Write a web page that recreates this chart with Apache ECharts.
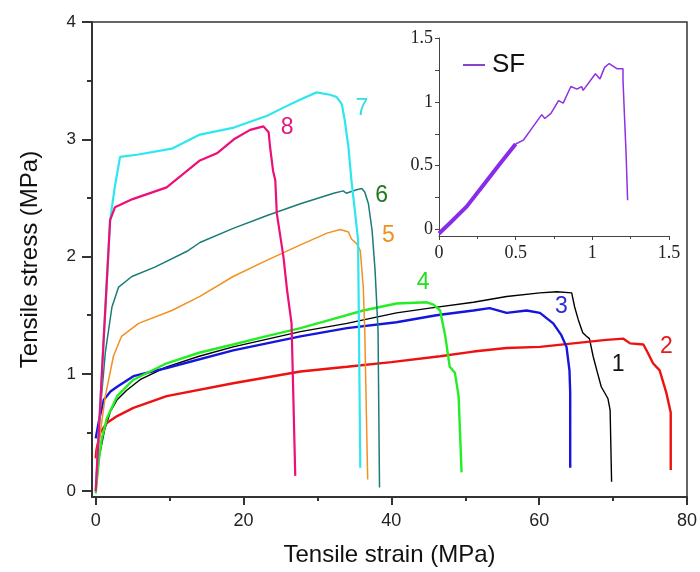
<!DOCTYPE html>
<html>
<head>
<meta charset="utf-8">
<script src="https://cdn.jsdelivr.net/npm/echarts@6/dist/echarts.min.js"></script>
<style>
  html, body { margin: 0; padding: 0; background: #fff; }
  #chart { width: 700px; height: 572px; }
</style>
</head>
<body>
<div id="chart"></div>
<script>
// curves: strain (x) and stress (y)
var s1Strain = [0, 0.5, 1.2, 2.0, 2.9, 4.2, 6.0, 9.6, 14, 18.6, 27.7, 34.0, 40.7, 45.2, 51.1, 55.6, 60.1, 62.4, 64.4, 64.8, 65.3, 65.9, 66.4, 66.8, 67.3, 67.8, 68.4, 69.3, 69.6, 69.8];
var s1Stress = [0, 0.3, 0.52, 0.68, 0.78, 0.86, 0.95, 1.06, 1.15, 1.23, 1.36, 1.43, 1.52, 1.56, 1.61, 1.66, 1.69, 1.70, 1.69, 1.57, 1.46, 1.35, 1.32, 1.30, 1.15, 1.03, 0.89, 0.79, 0.69, 0.08];

var s2Strain = [0, 0.1, 0.6, 1.5, 2.9, 5.1, 9.6, 18.6, 27.7, 34.0, 40, 46.6, 51.1, 55.6, 60.1, 64.6, 69.1, 71.4, 72.3, 74.1, 74.7, 75.4, 76.3, 77.2, 77.8, 77.8];
var s2Stress = [0.28, 0.35, 0.5, 0.58, 0.64, 0.71, 0.81, 0.92, 1.02, 1.06, 1.10, 1.15, 1.19, 1.22, 1.23, 1.26, 1.29, 1.30, 1.26, 1.25, 1.18, 1.09, 1.03, 0.84, 0.67, 0.18];

var s3Strain = [0, 0.5, 1.1, 2.0, 2.9, 5.1, 9.6, 18.6, 27.7, 34.0, 40.7, 46.1, 51.1, 53.3, 55.6, 58.3, 60.1, 61.9, 63.0, 63.7, 64.1, 64.2, 64.2];
var s3Stress = [0.45, 0.62, 0.78, 0.85, 0.89, 0.98, 1.05, 1.20, 1.32, 1.39, 1.44, 1.50, 1.54, 1.56, 1.52, 1.54, 1.52, 1.43, 1.33, 1.23, 1.03, 0.84, 0.20];

var s4Strain = [0, 0.4, 0.8, 1.5, 2.9, 5.1, 9.6, 14, 18.6, 23, 27.7, 31.7, 36.2, 40.7, 44.8, 45.7, 46.6, 47.3, 47.9, 48.6, 49.1, 49.5];
var s4Stress = [-0.02, 0.25, 0.44, 0.62, 0.81, 0.95, 1.09, 1.18, 1.25, 1.32, 1.39, 1.46, 1.54, 1.60, 1.61, 1.59, 1.54, 1.32, 1.06, 1.01, 0.81, 0.16];

var s5Strain = [0, 0.36, 1.3, 2.4, 3.5, 5.8, 10.3, 14.1, 18.6, 23.2, 27.7, 31.3, 33.1, 34.2, 34.6, 35.3, 35.8, 36.2, 36.4, 36.8];
var s5Stress = [0, 0.38, 0.81, 1.15, 1.32, 1.43, 1.54, 1.66, 1.83, 1.97, 2.10, 2.20, 2.23, 2.21, 2.15, 2.11, 2.05, 1.74, 1.37, 0.10];

var s6Strain = [0, 0.5, 1.3, 2.2, 3.1, 4.9, 8.0, 12.5, 14.1, 18.6, 23.2, 27.7, 32.2, 33.5, 33.9, 35.3, 36.0, 36.4, 36.9, 37.4, 37.8, 38.2, 38.4];
var s6Stress = [0, 0.6, 1.18, 1.57, 1.74, 1.83, 1.91, 2.05, 2.12, 2.24, 2.35, 2.45, 2.54, 2.56, 2.54, 2.57, 2.58, 2.55, 2.45, 2.22, 1.88, 1.37, 0.03];

var s7Strain = [0, 1.0, 1.95, 2.6, 3.3, 5.8, 10.3, 14.1, 18.7, 23.2, 25.4, 27.7, 29.9, 31.7, 32.6, 33.3, 33.7, 34.2, 34.6, 35.1, 35.5, 35.8];
var s7Stress = [0, 1.2, 2.31, 2.6, 2.85, 2.87, 2.92, 3.04, 3.10, 3.20, 3.27, 3.34, 3.40, 3.38, 3.36, 3.30, 3.16, 2.93, 2.65, 2.37, 2.14, 0.20];

var s8Strain = [0, 1.0, 1.95, 2.6, 5.0, 9.6, 14.1, 16.4, 18.7, 20.9, 22.7, 23.4, 23.6, 24.0, 24.3, 24.5, 25.4, 25.9, 26.5, 27.0];
var s8Stress = [0, 1.2, 2.31, 2.42, 2.49, 2.59, 2.82, 2.88, 3.00, 3.08, 3.11, 3.06, 2.93, 2.73, 2.65, 2.37, 2.0, 1.71, 1.43, 0.13];

// inset: SF sample
var sfStrain = [0, 0.07, 0.18, 0.29, 0.40, 0.50, 0.55, 0.61, 0.67, 0.69, 0.73, 0.78, 0.81, 0.86, 0.90, 0.93, 0.94, 1.02, 1.05, 1.08, 1.11, 1.16, 1.20, 1.20, 1.21, 1.22, 1.23];
var sfStress = [-0.03, 0.05, 0.18, 0.35, 0.52, 0.67, 0.70, 0.80, 0.90, 0.87, 0.91, 1.01, 0.99, 1.12, 1.10, 1.12, 1.09, 1.22, 1.18, 1.27, 1.30, 1.26, 1.26, 1.17, 0.88, 0.60, 0.23];

var curveNames = ['1', '2', '3', '4', '5', '6', '7', '8'];
var curveColors = ['#000000', '#ee1111', '#1515dd', '#22ee22', '#f39020', '#1b7b78', '#2ee6f0', '#ee0e78'];
var labelColors = ['#111111', '#e41a1c', '#2a2ad8', '#22dd22', '#f0901e', '#1f7a1f', '#33dde6', '#e0187a'];
var labelStrain = [70.7, 77.2, 63.0, 44.3, 39.6, 38.7, 36.0, 25.9];
var labelStress = [1.08, 1.23, 1.57, 1.78, 2.18, 2.52, 3.26, 3.10];

var allStrain = [s1Strain, s2Strain, s3Strain, s4Strain, s5Strain, s6Strain, s7Strain, s8Strain];
var allStress = [s1Stress, s2Stress, s3Stress, s4Stress, s5Stress, s6Stress, s7Stress, s8Stress];
var lineWidths = [1.4, 2.4, 2.4, 2.4, 1.5, 1.5, 2.2, 2.2];

var sansFont = '"Liberation Sans", Arial, sans-serif';
var serifFont = '"Liberation Serif", "Times New Roman", serif';

function zip(xs, ys) {
    return xs.map(function (x, i) { return [x, ys[i]]; });
}

var series = curveNames.map(function (name, i) {
    return {
        name: name,
        type: 'line',
        xAxisIndex: 0,
        yAxisIndex: 0,
        data: zip(allStrain[i], allStress[i]),
        symbol: 'none',
        lineStyle: { color: curveColors[i], width: lineWidths[i] },
        itemStyle: { color: curveColors[i] },
        markPoint: {
            symbol: 'circle',
            symbolSize: 0,
            label: {
                show: true,
                position: 'inside',
                formatter: name,
                color: labelColors[i],
                fontSize: 23,
                fontFamily: sansFont
            },
            data: [{ coord: [labelStrain[i], labelStress[i]] }]
        }
    };
});

// noisy low-strain part of SF is drawn heavier
var sfCut = sfStrain.filter(function (x) { return x <= 0.5; }).length;
series.push({
    name: 'SF',
    type: 'line',
    xAxisIndex: 2,
    yAxisIndex: 2,
    data: zip(sfStrain, sfStress).slice(sfCut - 1),
    symbol: 'none',
    lineStyle: { color: '#9030e0', width: 1.5 },
    itemStyle: { color: '#8a44c8' }
});
series.push({
    name: 'SF noisy',
    type: 'line',
    xAxisIndex: 2,
    yAxisIndex: 2,
    data: zip(sfStrain, sfStress).slice(0, sfCut),
    symbol: 'none',
    lineStyle: { color: '#8a2be8', width: 4 }
});

var axisLine = { onZero: false, lineStyle: { color: '#333', width: 2 } };
var tickStyle = { color: '#333', width: 2 };

var myChart = echarts.init(document.getElementById('chart'));
myChart.setOption({
    animation: false,
    legend: {
        data: [{ name: 'SF', icon: 'rect' }],
        left: 458,
        top: 47,
        itemWidth: 22,
        itemHeight: 2,
        itemGap: 0,
        textStyle: { fontSize: 26, color: '#111', fontFamily: sansFont, padding: [0, 0, 0, 2] }
    },
    grid: [
        { left: 92, right: 12, top: 22, bottom: 75, show: true, borderColor: '#333', borderWidth: 1.5 },
        { left: 439, right: 31, top: 38, bottom: 336 }
    ],
    xAxis: [
        {
            gridIndex: 0, type: 'value', min: -0.5, max: 80,
            axisLine: axisLine,
            axisTick: { customValues: [0, 20, 40, 60, 80], length: 8, lineStyle: tickStyle },
            axisLabel: { customValues: [0, 20, 40, 60, 80], fontSize: 18, color: '#222', margin: 15, fontFamily: sansFont },
            splitLine: { show: false },
            name: 'Tensile strain (MPa)', nameLocation: 'middle', nameGap: 46,
            nameTextStyle: { fontSize: 24, color: '#111', fontFamily: sansFont }
        },
        {
            gridIndex: 0, type: 'value', min: -0.5, max: 80, position: 'bottom',
            axisLine: { show: false, onZero: false },
            axisTick: { customValues: [10, 30, 50, 70], length: 4, lineStyle: tickStyle },
            axisLabel: { show: false },
            splitLine: { show: false }
        },
        {
            gridIndex: 1, type: 'value', min: 0, max: 1.5, interval: 0.5,
            axisLine: { onZero: false, lineStyle: { color: '#444', width: 1 } },
            axisTick: { length: 4, lineStyle: { color: '#444' } },
            minorTick: { show: true, splitNumber: 2, length: 3, lineStyle: { color: '#444' } },
            axisLabel: { fontSize: 18, color: '#222', margin: 8, fontFamily: serifFont },
            splitLine: { show: false }
        }
    ],
    yAxis: [
        {
            gridIndex: 0, type: 'value', min: -0.05, max: 4,
            axisLine: axisLine,
            axisTick: { customValues: [0, 1, 2, 3, 4], length: 10, lineStyle: tickStyle },
            axisLabel: { customValues: [0, 1, 2, 3, 4], fontSize: 17, color: '#222', margin: 16, fontFamily: sansFont },
            splitLine: { show: false },
            name: 'Tensile stress (MPa)', nameLocation: 'middle', nameGap: 50, nameRotate: 90,
            nameTextStyle: { fontSize: 24, color: '#111', fontFamily: sansFont }
        },
        {
            gridIndex: 0, type: 'value', min: -0.05, max: 4, position: 'left',
            axisLine: { show: false, onZero: false },
            axisTick: { customValues: [0.5, 1.5, 2.5, 3.5], length: 5, lineStyle: tickStyle },
            axisLabel: { show: false },
            splitLine: { show: false }
        },
        {
            gridIndex: 1, type: 'value', min: -0.05, max: 1.5,
            axisLine: { show: true, onZero: false, lineStyle: { color: '#444', width: 1 } },
            axisTick: { show: true, customValues: [0, 0.25, 0.5, 0.75, 1, 1.25, 1.5], length: 4, lineStyle: { color: '#444' } },
            axisLabel: { customValues: [0, 0.5, 1, 1.5], fontSize: 18, color: '#222', margin: 6, fontFamily: serifFont },
            splitLine: { show: false }
        }
    ],
    series: series
});
</script>
</body>
</html>
